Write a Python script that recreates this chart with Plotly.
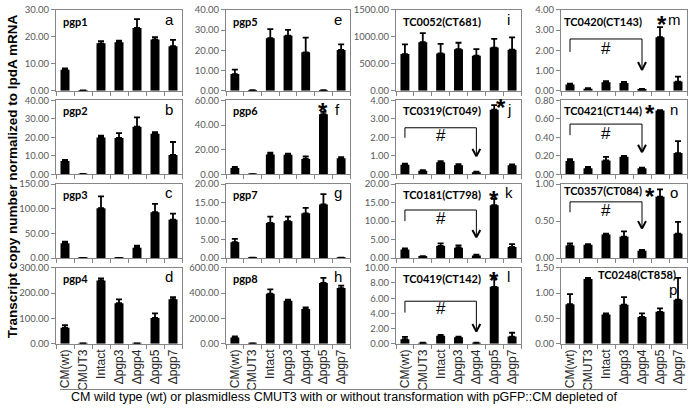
import plotly.graph_objects as go

categories = ["CM(wt)", "CMUT3", "Intact", "Δpgp3", "Δpgp4", "Δpgp5", "Δpgp7"]

# column 1
pgp1_vals = [7.8, 0.1, 17.6, 18.0, 23.3, 19.0, 16.5]
pgp1_errs = [0.5, 0.0, 0.8, 0.6, 3.3, 0.9, 2.4]
pgp2_vals = [7.2, 0.2, 20.0, 19.7, 25.8, 22.0, 10.5]
pgp2_errs = [0.6, 0.0, 1.0, 2.6, 5.0, 0.8, 7.0]
pgp3_vals = [30.0, 0.5, 101.0, 0.5, 21.0, 93.0, 78.0]
pgp3_errs = [3.5, 0.0, 24.0, 0.0, 4.0, 17.0, 12.0]
pgp4_vals = [63.0, 1.0, 250.0, 160.0, 1.0, 102.0, 176.0]
pgp4_errs = [10.0, 0.0, 8.0, 15.0, 0.0, 18.0, 8.0]
# column 2
pgp5_vals = [8.2, 0.2, 26.0, 27.3, 19.0, 0.2, 20.2]
pgp5_errs = [2.2, 0.0, 4.5, 2.8, 7.3, 0.0, 2.7]
pgp6_vals = [5.2, 0.2, 16.2, 16.0, 12.5, 48.8, 13.0]
pgp6_errs = [0.8, 0.0, 1.5, 0.8, 2.0, 2.0, 1.0]
pgp7_vals = [4.3, 0.1, 9.5, 10.0, 12.1, 14.5, 0.1]
pgp7_errs = [0.9, 0.0, 1.7, 1.2, 1.5, 2.8, 0.0]
pgp8_vals = [50.0, 3.0, 395.0, 340.0, 275.0, 480.0, 440.0]
pgp8_errs = [8.0, 0.0, 35.0, 8.0, 12.0, 40.0, 20.0]
# column 3
tc0052_vals = [680, 900, 690, 770, 650, 800, 760]
tc0052_errs = [180, 170, 180, 120, 120, 160, 230]
tc0319_vals = [0.52, 0.20, 0.65, 0.50, 0.12, 3.50, 0.50]
tc0319_errs = [0.06, 0.03, 0.07, 0.05, 0.03, 0.25, 0.04]
tc0181_vals = [2.3, 0.4, 3.3, 2.8, 0.7, 14.3, 3.0]
tc0181_errs = [0.3, 0.1, 0.7, 0.6, 0.2, 1.7, 0.8]
tc0419_vals = [0.6, 0.1, 1.05, 0.85, 0.1, 7.5, 0.95]
tc0419_errs = [0.3, 0.03, 0.1, 0.1, 0.04, 1.1, 0.5]
# column 4
tc0420_vals = [0.30, 0.10, 0.42, 0.38, 0.07, 2.65, 0.45]
tc0420_errs = [0.05, 0.02, 0.05, 0.05, 0.02, 0.50, 0.25]
tc0421_vals = [0.145, 0.065, 0.15, 0.19, 0.065, 0.69, 0.23]
tc0421_errs = [0.02, 0.015, 0.04, 0.01, 0.008, 0.005, 0.13]
tc0357_vals = [0.17, 0.18, 0.32, 0.29, 0.10, 0.83, 0.33]
tc0357_errs = [0.03, 0.01, 0.01, 0.07, 0.01, 0.10, 0.16]
tc0248_vals = [0.78, 1.28, 0.58, 0.77, 0.53, 0.63, 0.87]
tc0248_errs = [0.20, 0.02, 0.02, 0.15, 0.07, 0.07, 0.43]

panel_titles = ["pgp1", "pgp2", "pgp3", "pgp4", "pgp5", "pgp6", "pgp7", "pgp8",
                "TC0052(CT681)", "TC0319(CT049)", "TC0181(CT798)", "TC0419(CT142)",
                "TC0420(CT143)", "TC0421(CT144)", "TC0357(CT084)", "TC0248(CT858)"]
panel_letters = list("abcdefghijklmnop")
panel_vals = [pgp1_vals, pgp2_vals, pgp3_vals, pgp4_vals, pgp5_vals, pgp6_vals, pgp7_vals, pgp8_vals,
              tc0052_vals, tc0319_vals, tc0181_vals, tc0419_vals,
              tc0420_vals, tc0421_vals, tc0357_vals, tc0248_vals]
panel_errs = [pgp1_errs, pgp2_errs, pgp3_errs, pgp4_errs, pgp5_errs, pgp6_errs, pgp7_errs, pgp8_errs,
              tc0052_errs, tc0319_errs, tc0181_errs, tc0419_errs,
              tc0420_errs, tc0421_errs, tc0357_errs, tc0248_errs]
y_max = [30, 40, 150, 300, 40, 60, 20, 600, 1500, 4, 20, 10, 4, 0.8, 1.0, 1.5]
y_step = [10, 10, 50, 100, 10, 20, 5, 200, 500, 1, 5, 2, 1, 0.2, 0.5, 0.5]

# significance stars: panel index -> (category position, fraction of y range)
stars = {5: (5.0, 0.93), 9: (5.4, 0.99), 10: (5.0, 0.87), 11: (5.0, 0.91),
         12: (5.1, 0.89), 13: (4.45, 0.91), 14: (4.45, 0.91)}
# "#" brackets: panel index -> (top, left bottom, arrow tip, hash) as fractions of y range
brackets = {9: (0.63, 0.495, 0.245, 0.525), 10: (0.65, 0.50, 0.28, 0.54),
            11: (0.56, 0.41, 0.16, 0.46), 12: (0.64, 0.48, 0.255, 0.52),
            13: (0.68, 0.53, 0.30, 0.55), 14: (0.76, 0.62, 0.40, 0.64)}

W, H = 691, 412
col_px = [(56, 182), (226, 350), (396, 521), (561, 687)]
row_px = [(4, 87), (97, 173), (183, 259), (269, 347)]
title_x = [0.04] * 12 + [0.01, 0.01, 0.01, 0.28]
title_y = [0.86] * 14 + [0.92, 0.91]
letter_pos = [(0.9, 0.88)] * 16
letter_pos[15] = (0.89, 0.72)

AXC = "#868686"
TICKF = dict(family="Lato", size=9.5, color="#595959")

fig = go.Figure()
layout = dict(width=W, height=H, margin=dict(l=0, r=0, t=0, b=0),
              plot_bgcolor="white", paper_bgcolor="white", showlegend=False,
              bargap=0.5)
annotations = []
shapes = []

for i in range(16):
    c, r = i // 4, i % 4
    n = i + 1
    xs = "" if n == 1 else str(n)
    xa, ya = "x" + xs, "y" + xs
    fig.add_trace(go.Bar(
        x=categories, y=panel_vals[i], xaxis=xa, yaxis=ya,
        marker=dict(color="black", line=dict(width=0)), width=0.5,
        error_y=dict(type="data", symmetric=False, array=panel_errs[i],
                     arrayminus=[0] * 7, color="black", thickness=1.8, width=3),
    ))
    x0, x1 = col_px[c]
    y0, y1 = row_px[r]
    layout["xaxis" + xs] = dict(
        domain=[x0 / W, x1 / W], anchor=ya, type="category",
        categoryorder="array", categoryarray=categories,
        range=[-0.5, 6.5], tickson="boundaries", ticks="outside", ticklen=4,
        tickcolor=AXC, showline=True, linecolor=AXC, linewidth=1, mirror=True,
        showgrid=False, showticklabels=(r == 3), tickangle=-90,
        tickfont=dict(family="Liberation Sans", size=12, color="#262626"),
    )
    layout["yaxis" + xs] = dict(
        domain=[1 - y1 / H, 1 - y0 / H], anchor=xa, range=[0, y_max[i]],
        dtick=y_step[i], tick0=0, tickformat=".2f", ticks="outside", ticklen=4,
        tickcolor=AXC, showline=True, linecolor=AXC, linewidth=1, mirror=True,
        showgrid=False, zeroline=False, tickfont=TICKF,
    )
    dref_x, dref_y = xa + " domain", ya + " domain"
    annotations.append(dict(text="<b>" + panel_titles[i] + "</b>", xref=dref_x, yref=dref_y,
                            x=title_x[i], y=title_y[i], xanchor="left", yanchor="middle",
                            showarrow=False, font=dict(family="Lato", size=11, color="black")))
    lx, ly = letter_pos[i]
    annotations.append(dict(text=panel_letters[i], xref=dref_x, yref=dref_y,
                            x=lx, y=ly, xanchor="center", yanchor="middle",
                            showarrow=False, font=dict(family="Liberation Sans", size=15, color="black")))
    if i in stars:
        sx, sy = stars[i]
        annotations.append(dict(text="<b>*</b>", xref=xa, yref=ya, x=sx, y=sy * y_max[i],
                                xanchor="center", yanchor="middle", yshift=-6, showarrow=False,
                                font=dict(family="Liberation Sans", size=24, color="black")))
    if i in brackets:
        top, lb, tip, hs = [f * y_max[i] for f in brackets[i]]
        ym = y_max[i]
        line_k = dict(color="black", width=1)
        shapes.append(dict(type="line", xref=xa, yref=ya, x0=0, x1=0, y0=lb, y1=top, line=line_k))
        shapes.append(dict(type="line", xref=xa, yref=ya, x0=0, x1=4, y0=top, y1=top, line=line_k))
        shapes.append(dict(type="line", xref=xa, yref=ya, x0=4, x1=4, y0=top, y1=tip, line=line_k))
        headk = dict(color="black", width=2)
        shapes.append(dict(type="line", xref=xa, yref=ya, x0=4 - 0.22, x1=4, y0=tip + 0.1 * ym, y1=tip, line=headk))
        shapes.append(dict(type="line", xref=xa, yref=ya, x0=4 + 0.22, x1=4, y0=tip + 0.1 * ym, y1=tip, line=headk))
        annotations.append(dict(text="#", xref=xa, yref=ya, x=2, y=hs, xanchor="center",
                                yanchor="middle", showarrow=False,
                                font=dict(family="Liberation Sans", size=17, color="black")))

annotations.append(dict(text="<b>Transcript copy number normalized to lpdA mRNA</b>",
                        xref="paper", yref="paper", x=12 / W, y=1 - 175 / H, textangle=-90,
                        xanchor="center", yanchor="middle", showarrow=False,
                        font=dict(family="Liberation Sans", size=13.5, color="black")))
annotations.append(dict(text="CM wild type (wt) or plasmidless CMUT3 with or without transformation with pGFP::CM depleted of",
                        xref="paper", yref="paper", x=344 / W, y=1 - 402 / H,
                        xanchor="center", yanchor="middle", showarrow=False,
                        font=dict(family="Liberation Sans", size=12.5, color="black")))
shapes.append(dict(type="line", xref="paper", yref="paper", x0=60 / W, x1=687 / W,
                   y0=1 - 394 / H, y1=1 - 394 / H, line=dict(color="#7f7f7f", width=1)))

layout["annotations"] = annotations
layout["shapes"] = shapes
fig.update_layout(**layout)
fig.write_html("out.html", config={"displayModeBar": False},
               post_script="document.body.style.margin='0';document.body.style.overflow='hidden';")
